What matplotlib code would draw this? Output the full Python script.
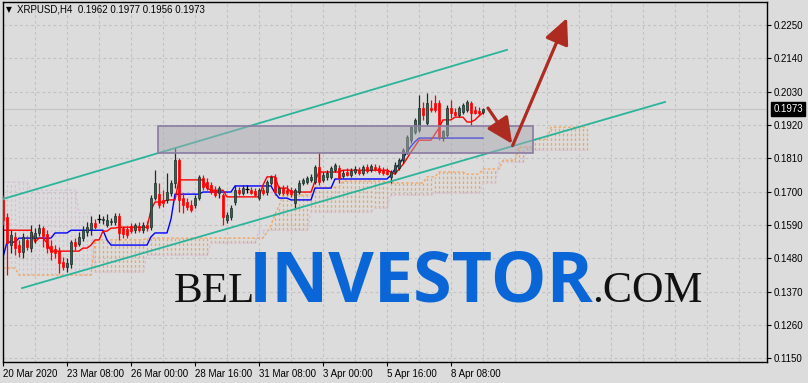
import numpy as np
import matplotlib
matplotlib.use('Agg')
import matplotlib.pyplot as plt
from matplotlib import font_manager
from matplotlib.patches import Rectangle, FancyArrowPatch, ArrowStyle
from matplotlib.colors import to_rgba

# ---------------- data ----------------
symbol_title = "XRPUSD,H4  0.1962 0.1977 0.1956 0.1973"
last_price = 0.1973

opens = [0.1673,0.1616,0.1524,0.1551,0.1524,0.1501,0.1541,0.1514,0.1547,0.1564,
         0.1580,0.1560,0.1521,0.1511,0.1504,0.1468,0.1451,0.1461,0.1534,0.1527,
         0.1547,0.1567,0.1577,0.1597,0.1610,0.1607,0.1590,0.1600,0.1600,0.1620,
         0.1580,0.1577,0.1587,0.1573,0.1587,0.1573,0.1590,0.1583,0.1679,0.1692,
         0.1673,0.1673,0.1696,0.1729,0.1804,0.1679,0.1666,0.1656,0.1656,0.1679,
         0.1745,0.1732,0.1722,0.1705,0.1696,0.1689,0.1607,0.1616,0.1666,0.1705,
         0.1696,0.1709,0.1705,0.1702,0.1679,0.1705,0.1699,0.1729,0.1749,0.1696,
         0.1712,0.1705,0.1705,0.1663,0.1699,0.1729,0.1732,0.1739,0.1732,0.1781,
         0.1739,0.1749,0.1749,0.1771,0.1778,0.1752,0.1765,0.1755,0.1765,0.1771,
         0.1762,0.1781,0.1771,0.1781,0.1778,0.1771,0.1768,0.1749,0.1765,0.1778,
         0.1804,0.1831,0.1870,0.1897,0.1904,0.1976,0.1927,0.1976,0.1993,0.1993,
         0.1877,0.1887,0.1976,0.1963,0.1953,0.1963,0.1970,0.1993,0.1970,0.1966,
         0.1962]
highs = [0.1689,0.1630,0.1573,0.1567,0.1541,0.1564,0.1554,0.1590,0.1580,0.1593,
         0.1587,0.1573,0.1541,0.1524,0.1517,0.1484,0.1481,0.1541,0.1547,0.1567,
         0.1587,0.1600,0.1620,0.1610,0.1626,0.1620,0.1626,0.1613,0.1630,0.1630,
         0.1587,0.1587,0.1597,0.1597,0.1600,0.1600,0.1603,0.1689,0.1771,0.1729,
         0.1705,0.1762,0.1739,0.1847,0.1811,0.1696,0.1679,0.1673,0.1689,0.1755,
         0.1755,0.1745,0.1732,0.1719,0.1719,0.1696,0.1633,0.1656,0.1722,0.1715,
         0.1722,0.1722,0.1715,0.1712,0.1712,0.1715,0.1739,0.1755,0.1758,0.1719,
         0.1722,0.1722,0.1715,0.1712,0.1739,0.1745,0.1752,0.1758,0.1788,0.1831,
         0.1765,0.1771,0.1785,0.1794,0.1788,0.1771,0.1778,0.1778,0.1785,0.1781,
         0.1788,0.1791,0.1791,0.1791,0.1788,0.1781,0.1778,0.1771,0.1798,0.1811,
         0.1844,0.1887,0.1917,0.1943,0.2019,0.1996,0.2026,0.2002,0.2019,0.2002,
         0.1904,0.1986,0.2002,0.1976,0.1983,0.1993,0.2002,0.1999,0.1983,0.1979,
         0.1977]
lows = [0.1590,0.1425,0.1498,0.1491,0.1484,0.1481,0.1508,0.1501,0.1531,0.1554,
        0.1517,0.1498,0.1475,0.1481,0.1432,0.1442,0.1435,0.1448,0.1508,0.1521,
        0.1537,0.1554,0.1557,0.1577,0.1597,0.1593,0.1583,0.1590,0.1590,0.1541,
        0.1547,0.1547,0.1564,0.1564,0.1567,0.1564,0.1570,0.1573,0.1673,0.1646,
        0.1649,0.1663,0.1686,0.1712,0.1633,0.1630,0.1640,0.1633,0.1646,0.1673,
        0.1705,0.1705,0.1692,0.1682,0.1679,0.1590,0.1597,0.1607,0.1656,0.1689,
        0.1689,0.1696,0.1692,0.1686,0.1673,0.1689,0.1689,0.1722,0.1689,0.1689,
        0.1689,0.1689,0.1682,0.1646,0.1692,0.1722,0.1725,0.1732,0.1725,0.1722,
        0.1732,0.1739,0.1742,0.1765,0.1729,0.1745,0.1752,0.1749,0.1758,0.1755,
        0.1755,0.1762,0.1765,0.1768,0.1758,0.1755,0.1755,0.1729,0.1758,0.1771,
        0.1794,0.1824,0.1861,0.1890,0.1897,0.1937,0.1920,0.1963,0.1963,0.1870,
        0.1867,0.1880,0.1943,0.1950,0.1946,0.1956,0.1963,0.1920,0.1956,0.1950,
        0.1956]
closes = [0.1607,0.1531,0.1557,0.1514,0.1501,0.1551,0.1517,0.1567,0.1564,0.1580,
          0.1554,0.1514,0.1501,0.1498,0.1465,0.1451,0.1465,0.1534,0.1521,0.1551,
          0.1573,0.1583,0.1597,0.1583,0.1610,0.1610,0.1607,0.1603,0.1620,0.1564,
          0.1560,0.1557,0.1570,0.1590,0.1573,0.1590,0.1580,0.1679,0.1729,0.1656,
          0.1663,0.1699,0.1729,0.1804,0.1673,0.1656,0.1649,0.1640,0.1679,0.1749,
          0.1715,0.1712,0.1699,0.1689,0.1712,0.1616,0.1623,0.1646,0.1705,0.1696,
          0.1712,0.1709,0.1696,0.1689,0.1705,0.1696,0.1732,0.1749,0.1699,0.1712,
          0.1696,0.1696,0.1692,0.1705,0.1729,0.1739,0.1745,0.1749,0.1781,0.1732,
          0.1755,0.1762,0.1778,0.1788,0.1745,0.1762,0.1755,0.1768,0.1775,0.1762,
          0.1781,0.1768,0.1785,0.1775,0.1765,0.1762,0.1758,0.1765,0.1788,0.1804,
          0.1837,0.1880,0.1913,0.1937,0.1976,0.1953,0.1993,0.1970,0.1970,0.1880,
          0.1900,0.1976,0.1960,0.1953,0.1976,0.1986,0.1996,0.1960,0.1960,0.1960,
          0.1973]

# Ichimoku lines as (level, number of bars) runs
tenkan_levels = [0.1573,0.1534,0.1547,0.1531,0.1504,0.1514,0.1524,0.1541,0.1570,0.1580,
                 0.1583,0.1640,0.1666,0.1673,0.1739,0.1712,0.1705,0.1683,0.1722,0.1749,
                 0.1712,0.1699,0.1735,0.1765,0.1771,0.1765,0.1758,0.1775,0.1790,0.1810,
                 0.1831,0.1850,0.1870,0.1890,0.1910,0.1937,0.1946,0.1930,0.1937,0.1950,
                 0.1960]
tenkan_runs = [8,1,2,1,8,2,1,2,2,2,
               8,1,3,3,7,1,4,9,1,3,
               3,6,1,6,12,1,1,1,1,1,
               1,1,4,1,1,3,3,2,1,1,
               1]
kijun_levels = [0.1484,0.1534,0.1547,0.1564,0.1573,0.1541,0.1524,0.1551,0.1564,0.1610,
                0.1692,0.1699,0.1719,0.1696,0.1679,0.1673,0.1712,0.1742,0.1755,0.1775,
                0.1790,0.1810,0.1831,0.1850,0.1865,0.1877]
kijun_runs = [1,3,9,4,9,1,10,1,4,1,
              7,8,10,1,3,6,5,14,1,1,
              1,1,1,1,1,17]
span_a_levels = [0.1448,0.1425,0.1541,0.1547,0.1567,0.1590,0.1626,0.1653,0.1689,0.1715,
                 0.1735,0.1729,0.1749,0.1765,0.1758,0.1775,0.1804,0.1847,0.1873,0.1913]
span_a_runs = [4,19,13,30,1,1,1,1,8,7,
               11,10,3,7,4,5,4,4,4,10]
span_b_levels = [0.1732,0.1705,0.1630,0.1435,0.1491,0.1531,0.1573,0.1633,0.1646,0.1689,
                 0.1696,0.1729,0.1798,0.1837]
span_b_runs = [7,12,4,13,16,12,13,16,4,11,
               12,4,7,16]

# hand-drawn objects (bar index, price)
channel_upper = [(-0.75, 0.1673), (126.0, 0.2168)]
channel_lower = [(4.75, 0.1382), (165.5, 0.1996)]
zone_box = (38.75, 132.5, 0.1827, 0.1917)   # x0, x1, low, high
arrow_down = [(121.25, 0.1976), (127.3, 0.1858)]
arrow_up = [(127.4, 0.1852), (141.0, 0.2273)]

price_ticks = [0.1150, 0.1260, 0.1370, 0.1480, 0.1590, 0.1700, 0.1810, 0.1920, 0.2030, 0.2140, 0.2250]
time_tick_bars = [0, 16, 32, 48, 64, 80, 96, 112]
time_tick_labels = ["20 Mar 2020", "23 Mar 08:00", "26 Mar 00:00", "28 Mar 16:00",
                    "31 Mar 08:00", "3 Apr 00:00", "5 Apr 16:00", "8 Apr 08:00"]

# ---------------- style ----------------
names = {f.name for f in font_manager.fontManager.ttflist}
NARROW = 'Liberation Sans Narrow' if 'Liberation Sans Narrow' in names else 'Liberation Sans'
plt.rcParams['font.family'] = [NARROW, 'DejaVu Sans']
SMALL = 8 if NARROW == 'Liberation Sans Narrow' else 7

BG = '#dcdcdc'
GRID = '#c2c2c2'
W, H = 808, 383
fig = plt.figure(figsize=(W / 100, H / 100), dpi=100, facecolor=BG)
ax = fig.add_axes([2.5 / W, 21 / H, (767 - 2.5) / W, (362 - 1.5) / H])
ax.set_facecolor(BG)
ax.set_xlim(-0.125, 191.0)
ax.set_ylim(0.11383, 0.23275)

o = np.array(opens); h = np.array(highs); l = np.array(lows); c = np.array(closes)
n = len(o)
idx = np.arange(n)

# grid
for gx in range(8, 191, 8):
    ax.axvline(gx, color=GRID, lw=0.8, ls=(0, (2.5, 2.5)), zorder=0)
for gy in price_ticks:
    ax.axhline(gy, color=GRID, lw=0.8, ls=(0, (2.5, 2.5)), zorder=0)

# bid line
ax.axhline(last_price, color='#c6c6c6', lw=0.9, zorder=0.5)

# Ichimoku cloud
span_a = np.repeat(span_a_levels, span_a_runs)
span_b = np.repeat(span_b_levels, span_b_runs)
ci = np.arange(len(span_a))
cloud_cols = np.where(span_a >= span_b, '#f4a460', '#d8bfd8')
ax.vlines(ci, np.minimum(span_a, span_b), np.maximum(span_a, span_b),
          colors=cloud_cols, linestyles=(0, (2, 1.6)), lw=0.95, zorder=1)
ax.plot(ci, span_a, color='#f4a460', ls=(0, (2, 1.6)), lw=0.95, zorder=1.2)
ax.plot(ci, span_b, color='#d8bfd8', ls=(0, (2, 1.6)), lw=0.95, zorder=1.2)

# Tenkan / Kijun
tenkan = np.repeat(tenkan_levels, tenkan_runs)
kijun = np.repeat(kijun_levels, kijun_runs)
ax.plot(idx, kijun, color='#0000ff', lw=1.0, zorder=2)
ax.plot(idx, tenkan, color='#ff0000', lw=1.0, zorder=2.1)

# candles
up = c > o
dn = c < o
dj = c == o
BULL = '#34604f'
wick_cols = np.where(up, '#1e2b27', np.where(dn, '#ff0000', '#000000'))
ax.vlines(idx, l, h, colors=wick_cols, lw=0.9, zorder=3)
body_cols = np.where(up, BULL, '#ff0000')
edge_cols = np.where(up, '#1a2e27', '#ff0000')
ax.bar(idx[~dj], np.abs(c - o)[~dj], bottom=np.minimum(o, c)[~dj], width=0.66,
       color=body_cols[~dj], edgecolor=edge_cols[~dj], linewidth=0.5, zorder=4)
ax.hlines(o[dj], idx[dj] - 0.4, idx[dj] + 0.4, colors='#000000', lw=0.9, zorder=4)

# channel
ax.plot([p[0] for p in channel_upper], [p[1] for p in channel_upper], color='#2bb49b', lw=1.3, zorder=5)
ax.plot([p[0] for p in channel_lower], [p[1] for p in channel_lower], color='#2bb49b', lw=1.3, zorder=5)

# zone rectangle
bx0, bx1, blo, bhi = zone_box
ax.add_patch(Rectangle((bx0, blo), bx1 - bx0, bhi - blo,
                       facecolor=to_rgba('#a8a8b2', 0.5), edgecolor='#8a7ba3', lw=1.2, zorder=6))

# arrows
ARROW = '#ad2b20'
style = ArrowStyle('-|>', head_length=1.05, head_width=0.5)
for a in (arrow_down, arrow_up):
    ax.add_patch(FancyArrowPatch(a[0], a[1], arrowstyle=style, mutation_scale=15,
                                 color=ARROW, lw=2.3, shrinkA=0, shrinkB=0, zorder=7))

# axes styling
for s in ax.spines.values():
    s.set_color('black'); s.set_linewidth(1.0)
ax.yaxis.tick_right()
ax.set_yticks(price_ticks)
ax.set_yticklabels([f'{t:.4f}' for t in price_ticks])
ax.tick_params(axis='y', direction='out', length=3, width=0.8, pad=2, labelsize=SMALL, colors='black')
ax.set_xticks(time_tick_bars)
ax.set_xticklabels(time_tick_labels)
for lbl in ax.get_xticklabels():
    lbl.set_horizontalalignment('left')
ax.tick_params(axis='x', direction='out', length=3, width=0.8, pad=2, labelsize=SMALL, colors='black')

# last price label
ax.annotate(f'{last_price:.4f}', xy=(1.0, last_price), xycoords=ax.get_yaxis_transform(),
            xytext=(4.5, 0), textcoords='offset points', va='center', ha='left',
            fontsize=SMALL, color='white',
            bbox=dict(boxstyle='square,pad=0.2', facecolor='black', edgecolor='black'))

# header
fig.text(6 / W, 1 - 10 / H, '\u25bc', fontsize=5.5, family='DejaVu Sans', va='center', ha='left')
fig.text(17 / W, 1 - 10 / H, symbol_title, fontsize=SMALL, va='center', ha='left')

# watermark
base = 1 - 302 / H
fig.text(174 / W, base, 'BEL', fontsize=31, family='Liberation Serif', color='#111111', va='baseline', ha='left', zorder=10)
fig.text(249 / W, base, 'INVESTOR', fontsize=50.5, family='Open Sans', weight='bold', color='#0a66d6', va='baseline', ha='left', zorder=10)
fig.text(592 / W, base, '.COM', fontsize=31.5, family='Liberation Serif', color='#111111', va='baseline', ha='left', zorder=10)

fig.savefig('out.png', dpi=100, facecolor=BG)
